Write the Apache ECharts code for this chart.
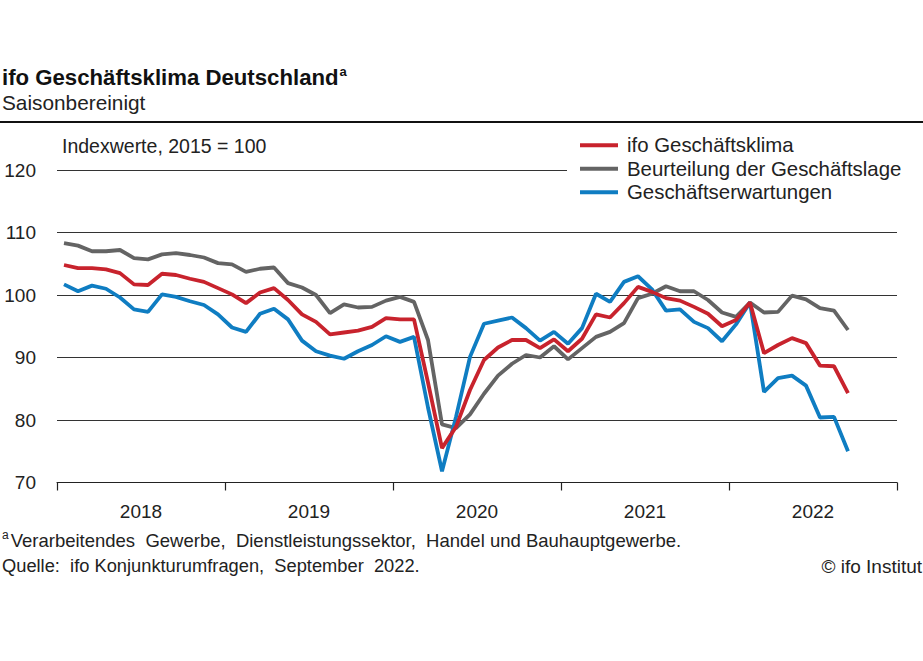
<!DOCTYPE html>
<html>
<head>
<meta charset="utf-8">
<script src="https://cdn.jsdelivr.net/npm/echarts@6/dist/echarts.min.js"></script>
<style>
html,body{margin:0;padding:0;background:#fff;}
#chart{width:923px;height:661px;}
</style>
</head>
<body>
<div id="chart"></div>
<script>
// Years shown on the x axis (monthly data Jan 2018 – Sep 2022)
var years = ['2018', '2019', '2020', '2021', '2022'];
var yTicks = [70, 80, 90, 100, 110, 120];

var seriesNames = ['ifo Geschäftsklima', 'Beurteilung der Geschäftslage', 'Geschäftserwartungen'];

// ifo Geschäftsklima (Index, 2015 = 100)
var klima = [
  104.8, 104.3, 104.3, 104.1, 103.5, 101.7, 101.6, 103.4, 103.2, 102.6, 102.1, 101.1,
  100.1, 98.7, 100.4, 101.1, 99.2, 96.9, 95.7, 93.7, 94.0, 94.3, 94.9, 96.3,
  96.1, 96.1, 86.0, 75.5, 78.9, 84.8, 89.6, 91.6, 92.8, 92.8, 91.5, 92.9,
  91.0, 93.0, 96.9, 96.4, 98.7, 101.3, 100.5, 99.5, 99.1, 98.1, 97.0, 95.0,
  96.0, 98.8, 90.7, 92.0, 93.1, 92.3, 88.7, 88.6, 84.3
];
// Beurteilung der Geschäftslage
var lage = [
  108.3, 107.9, 107.0, 107.0, 107.2, 105.9, 105.7, 106.5, 106.7, 106.4, 106.0, 105.1,
  104.9, 103.7, 104.2, 104.4, 101.9, 101.2, 100.0, 97.1, 98.5, 98.0, 98.1, 99.1,
  99.7, 98.9, 92.8, 79.3, 78.7, 80.9, 84.2, 87.1, 89.0, 90.4, 90.0, 91.8,
  89.7, 91.5, 93.3, 94.1, 95.5, 99.5, 100.2, 101.4, 100.6, 100.6, 99.2, 97.2,
  96.5, 98.8, 97.2, 97.3, 99.9, 99.3, 97.9, 97.5, 94.4
];
// Geschäftserwartungen
var erwartungen = [
  101.7, 100.6, 101.5, 101.0, 99.6, 97.7, 97.3, 100.1, 99.7, 99.0, 98.4, 96.9,
  94.8, 94.1, 97.0, 97.8, 96.1, 92.7, 91.0, 90.3, 89.8, 91.0, 92.0, 93.4,
  92.5, 93.3, 82.0, 71.8, 80.5, 90.1, 95.4, 95.9, 96.4, 94.7, 92.7, 94.1,
  92.2, 94.7, 100.2, 98.9, 102.1, 103.0, 100.9, 97.5, 97.7, 95.7, 94.7, 92.6,
  95.3, 98.8, 84.5, 86.7, 87.1, 85.5, 80.4, 80.5, 75.0
];

function toPoints(arr) {
  return arr.map(function (v, i) { return [i + 0.5, v]; });
}

var FONT = '"Liberation Sans", Arial, sans-serif';
var chart = echarts.init(document.getElementById('chart'), null, {renderer: 'svg'});

var option = {
  backgroundColor: '#ffffff',
  animation: false,
  textStyle: {fontFamily: FONT},
  grid: {left: 57, right: 26, top: 170, height: 312.5, containLabel: false},
  xAxis: [
    {
      type: 'category',
      data: years,
      position: 'bottom',
      boundaryGap: true,
      axisLine: {show: true, lineStyle: {color: '#222', width: 1}},
      axisTick: {show: true, length: 8, lineStyle: {color: '#222', width: 1.2}},
      axisLabel: {color: '#222', fontSize: 19, fontFamily: FONT, margin: 19},
      splitLine: {show: false}
    },
    {
      type: 'value',
      min: 0,
      max: 60,
      show: false
    }
  ],
  yAxis: {
    type: 'value',
    min: yTicks[0],
    max: yTicks[yTicks.length - 1],
    interval: 10,
    axisLine: {show: false},
    axisTick: {show: false},
    axisLabel: {color: '#222', fontSize: 19, fontFamily: FONT, margin: 21},
    splitLine: {show: true, lineStyle: {color: '#333', width: 1}}
  },
  legend: {
    orient: 'vertical',
    left: 567,
    top: 133.5,
    padding: [0, 10, 0, 13],
    backgroundColor: '#ffffff',
    itemWidth: 38,
    itemHeight: 4,
    itemGap: 0,
    icon: 'rect',
    data: seriesNames,
    textStyle: {fontSize: 20.4, color: '#222', fontFamily: FONT, lineHeight: 23.5, padding: [0, 0, 0, 4]},
    selectedMode: false
  },
  series: [
    {
      name: seriesNames[1], type: 'line', xAxisIndex: 1, data: toPoints(lage),
      showSymbol: false, symbol: 'none', z: 2,
      lineStyle: {color: '#646464', width: 3.8}, itemStyle: {color: '#646464'}
    },
    {
      name: seriesNames[2], type: 'line', xAxisIndex: 1, data: toPoints(erwartungen),
      showSymbol: false, symbol: 'none', z: 3,
      lineStyle: {color: '#0f7dc2', width: 3.8}, itemStyle: {color: '#0f7dc2'}
    },
    {
      name: seriesNames[0], type: 'line', xAxisIndex: 1, data: toPoints(klima),
      showSymbol: false, symbol: 'none', z: 4,
      lineStyle: {color: '#c8232d', width: 3.8}, itemStyle: {color: '#c8232d'}
    }
  ],
  graphic: [
    {
      type: 'text', left: 2, top: 65,
      style: {
        text: '{t|ifo Geschäftsklima Deutschland}{s|a}',
        rich: {
          t: {fontSize: 22.2, fontWeight: 'bold', fill: '#111', fontFamily: FONT, lineHeight: 25},
          s: {fontSize: 13, fontWeight: 'bold', fill: '#111', fontFamily: FONT, verticalAlign: 'top', lineHeight: 25, padding: [0, 0, 8, 1]}
        }
      }
    },
    {
      type: 'text', left: 2, top: 91.5,
      style: {text: 'Saisonbereinigt', fontSize: 20.8, fill: '#222', fontFamily: FONT}
    },
    {
      type: 'rect', shape: {x: 0, y: 121, width: 923, height: 2},
      style: {fill: '#111'}
    },
    {
      type: 'text', left: 62, top: 136,
      style: {text: 'Indexwerte, 2015 = 100', fontSize: 19.5, fill: '#222', fontFamily: FONT}
    },
    {
      type: 'text', left: 2, top: 528.5,
      style: {
        text: '{s|a}{t|Verarbeitendes  Gewerbe,  Dienstleistungssektor,  Handel und Bauhauptgewerbe.}',
        rich: {
          s: {fontSize: 12, fill: '#222', fontFamily: FONT, verticalAlign: 'top', lineHeight: 23, padding: [0, 2, 8, 0]},
          t: {fontSize: 18.5, fill: '#222', fontFamily: FONT, lineHeight: 23}
        }
      }
    },
    {
      type: 'text', left: 2, top: 556.5,
      style: {text: 'Quelle:  ifo Konjunkturumfragen,  September  2022.', fontSize: 18.3, fill: '#222', fontFamily: FONT}
    },
    {
      type: 'text', right: 1, top: 556.5,
      style: {text: '© ifo Institut', fontSize: 19, fill: '#222', fontFamily: FONT}
    }
  ]
};
chart.setOption(option);
</script>
</body>
</html>
